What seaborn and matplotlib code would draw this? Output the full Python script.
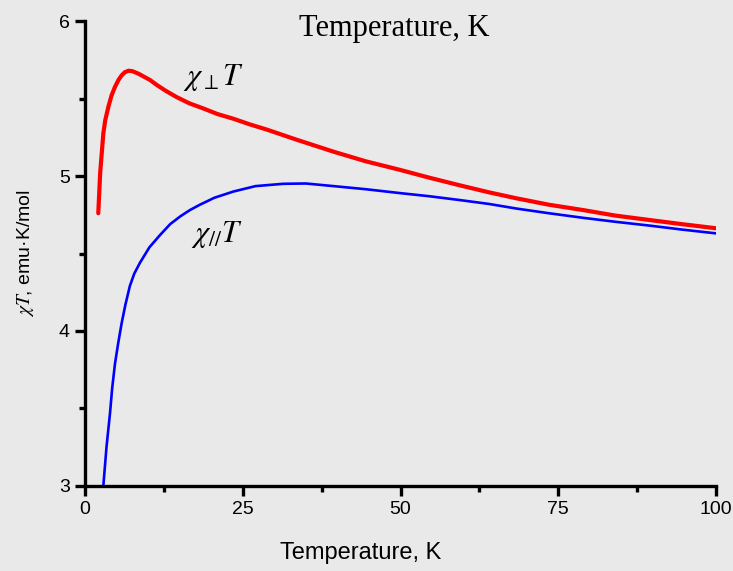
import numpy as np
import pandas as pd
import seaborn as sns
import matplotlib.pyplot as plt
from matplotlib.ticker import MultipleLocator

# chi_perp * T curve (red)
perp_T = [2.1, 2.4, 2.9, 3.2, 3.7, 4.2, 4.75, 5.3, 5.8, 6.3, 6.9, 7.5, 8.5, 9.4, 10.3,
          11.4, 12.8, 14.5, 16.5, 18.7, 21.0, 23.5, 26.0, 28.8, 33.5, 39.4, 44.5,
          49.9, 54.5, 59.4, 64.0, 68.4, 73.5, 79.0, 84.0, 89.5, 94.5, 100.0]
perp_chiT = [4.76, 5.02, 5.275, 5.36, 5.447, 5.52, 5.576, 5.62, 5.65, 5.67, 5.68, 5.677, 5.66,
             5.64, 5.62, 5.587, 5.55, 5.51, 5.47, 5.437, 5.40, 5.37, 5.335, 5.30, 5.235,
             5.157, 5.095, 5.04, 4.99, 4.94, 4.895, 4.856, 4.815, 4.78, 4.745, 4.716,
             4.69, 4.663]

# chi_par * T curve (blue)
par_T = [2.9, 3.4, 3.96, 4.3, 4.75, 5.25, 5.8, 6.4, 7.1, 7.8, 8.7, 10.2, 11.9, 13.5,
         15.1, 16.6, 18.2, 20.5, 23.5, 27.0, 31.4, 35.0, 39.4, 44.5, 49.9, 54.5,
         59.4, 64.0, 68.4, 73.5, 79.0, 84.0, 89.5, 94.5, 100.0]
par_chiT = [3.0, 3.25, 3.47, 3.63, 3.79, 3.92, 4.05, 4.17, 4.29, 4.37, 4.44, 4.54, 4.62,
            4.69, 4.74, 4.78, 4.815, 4.86, 4.90, 4.935, 4.95, 4.952, 4.935, 4.915, 4.89,
            4.87, 4.845, 4.82, 4.79, 4.76, 4.73, 4.705, 4.68, 4.655, 4.63]

x_ticks = [0, 25, 50, 75, 100]
y_ticks = [3, 4, 5, 6]

perp_df = pd.DataFrame({'T': perp_T, 'chiT': perp_chiT})
par_df = pd.DataFrame({'T': par_T, 'chiT': par_chiT})

sns.set_style('ticks')
plt.rcParams['font.family'] = ['Liberation Sans', 'DejaVu Sans']
plt.rcParams['mathtext.fontset'] = 'stix'
plt.rcParams['text.color'] = 'black'
plt.rcParams['axes.labelcolor'] = 'black'

bg = '#e9e9e9'
fig = plt.figure(figsize=(7.33, 5.71), dpi=100, facecolor=bg)
ax = fig.add_axes([0.116, 0.149, 0.861, 0.814])
ax.set_facecolor(bg)

sns.lineplot(data=perp_df, x='T', y='chiT', color='#ff0000', linewidth=3.0, ax=ax, sort=False)
sns.lineplot(data=par_df, x='T', y='chiT', color='#0000ff', linewidth=1.9, ax=ax, sort=False)

ax.set_xlim(0, 100)
ax.set_ylim(3, 6)
ax.set_xticks(x_ticks)
ax.set_yticks(y_ticks)
ax.xaxis.set_minor_locator(MultipleLocator(12.5))
ax.yaxis.set_minor_locator(MultipleLocator(0.5))

for side in ['top', 'right']:
    ax.spines[side].set_visible(False)
for side in ['left', 'bottom']:
    ax.spines[side].set_linewidth(2.4)
    ax.spines[side].set_color('black')

ax.tick_params(which='major', direction='out', length=7, width=2.4, labelsize=14, colors='black', pad=4)
ax.tick_params(which='minor', direction='out', length=4, width=2.4, colors='black')

ax.set_xlabel('Temperature, K', fontsize=17)
ax.xaxis.set_label_coords(0.436, -0.12)
ax.set_ylabel(r'$\chi T$, emu·K/mol', fontsize=14)
ax.yaxis.set_label_coords(-0.078, 0.5)

ax.text(15.5, 5.587, r'$\chi_{\perp}T$', fontsize=22, ha='left', va='baseline')
ax.text(16.8, 4.574, r'$\chi_{//}T$', fontsize=22, ha='left', va='baseline')

fig.text(394.5 / 733, 1 - 36 / 571, 'Temperature, K', fontsize=22,
         family=['Liberation Serif', 'DejaVu Serif'], ha='center', va='baseline')

fig.savefig('out.png', dpi=100, facecolor=bg)
